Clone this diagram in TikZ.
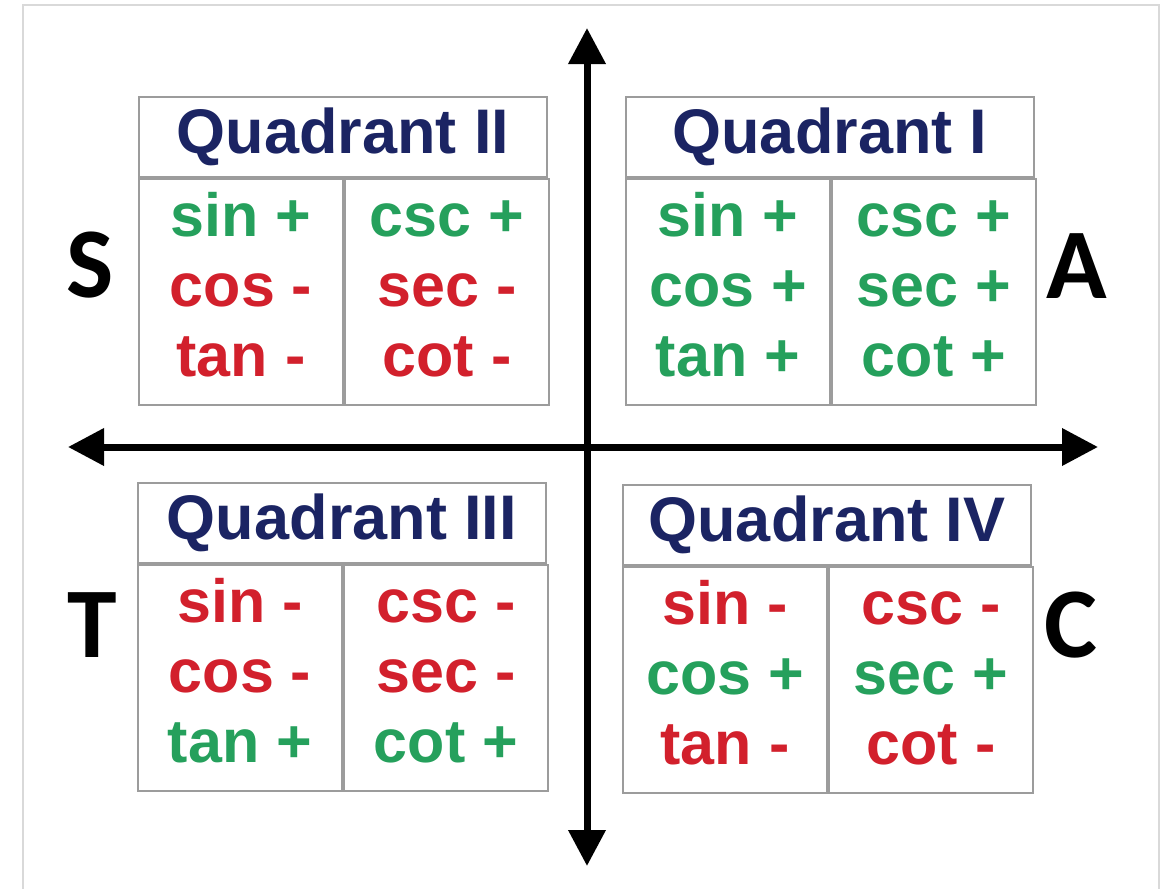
\documentclass[tikz,border=0pt]{standalone}
\usepackage{fontspec}
\setmainfont{Liberation Sans}
\newfontfamily\letterfont{Carlito}
\usepackage{tikz}
\usetikzlibrary{positioning, arrows.meta}
\definecolor{quadNavy}  {HTML}{1B2463}
\definecolor{signPlus}  {HTML}{25A05C}
\definecolor{signMinus} {HTML}{D2202C}
\definecolor{boxLine}   {HTML}{9C9C9C}
\definecolor{frameLine} {HTML}{D9D9D9}
\newcommand{\sgnplus}[1]{\strut\textcolor{signPlus}{#1 +}}
\newcommand{\sgnminus}[1]{\strut\textcolor{signMinus}{#1 -}}
\tikzset{
  headbox/.style={draw=boxLine, line width=2pt, minimum width=408pt, minimum height=80pt,
                  inner sep=0pt, text=quadNavy, font=\bfseries\fontsize{63}{70}\selectfont},
  cellbox/.style={draw=boxLine, line width=2pt, minimum width=204pt, minimum height=226pt,
                  inner sep=0pt, align=center, font=\bfseries\fontsize{61}{70}\selectfont},
  quadletter/.style={inner sep=0pt, font=\letterfont\bfseries\fontsize{100}{110}\selectfont},
  axisline/.style={line width=7pt, {Triangle[length=36pt, width=36pt]}-{Triangle[length=36pt, width=36pt]}},
}

\begin{document}
\begin{tikzpicture}[x=1pt, y=-1pt]
  \useasboundingbox (0,0) rectangle (1160,889);
  \draw[frameLine, line width=2pt] (23,900) -- (23,5) -- (1159,5) -- (1159,900);

  % quadrant II
  \node[headbox, anchor=north west] (q2h) at (138,96) {Quadrant II};
  \node[cellbox, anchor=north west] (q2l) at (q2h.south west)
       {\sgnplus{sin}\\ \sgnminus{cos}\\ \sgnminus{tan}};
  \node[cellbox, anchor=north west] (q2r) at (q2l.north east)
       {\sgnplus{csc}\\ \sgnminus{sec}\\ \sgnminus{cot}};

  % quadrant I
  \node[headbox, anchor=north west] (q1h) at (625,96) {Quadrant I};
  \node[cellbox, anchor=north west] (q1l) at (q1h.south west)
       {\sgnplus{sin}\\ \sgnplus{cos}\\ \sgnplus{tan}};
  \node[cellbox, anchor=north west] (q1r) at (q1l.north east)
       {\sgnplus{csc}\\ \sgnplus{sec}\\ \sgnplus{cot}};

  % quadrant III
  \node[headbox, anchor=north west] (q3h) at (137,482) {Quadrant III};
  \node[cellbox, anchor=north west] (q3l) at (q3h.south west)
       {\sgnminus{sin}\\ \sgnminus{cos}\\ \sgnplus{tan}};
  \node[cellbox, anchor=north west] (q3r) at (q3l.north east)
       {\sgnminus{csc}\\ \sgnminus{sec}\\ \sgnplus{cot}};

  % quadrant IV
  \node[headbox, anchor=north west] (q4h) at (622,484) {Quadrant IV};
  \node[cellbox, anchor=north west] (q4l) at (q4h.south west)
       {\sgnminus{sin}\\ \sgnplus{cos}\\ \sgnminus{tan}};
  \node[cellbox, anchor=north west] (q4r) at (q4l.north east)
       {\sgnminus{csc}\\ \sgnplus{sec}\\ \sgnminus{cot}};

  % ASTC letters
  \node[quadletter] (ls) at (90,265)   {S};
  \node[quadletter] (la) at (1077,266) {A};
  \node[quadletter] (lt) at (92,625)   {T};
  \node[quadletter] (lc) at (1071,625) {C};

  % axes
  \coordinate (ytop) at (587,28);
  \coordinate (ybot) at (587,866);
  \coordinate (xlft) at (68,447);
  \coordinate (xrgt) at (1098,447);
  \draw[axisline] (ybot) -- (ytop);
  \draw[axisline] (xlft) -- (xrgt);
\end{tikzpicture}
\end{document}
